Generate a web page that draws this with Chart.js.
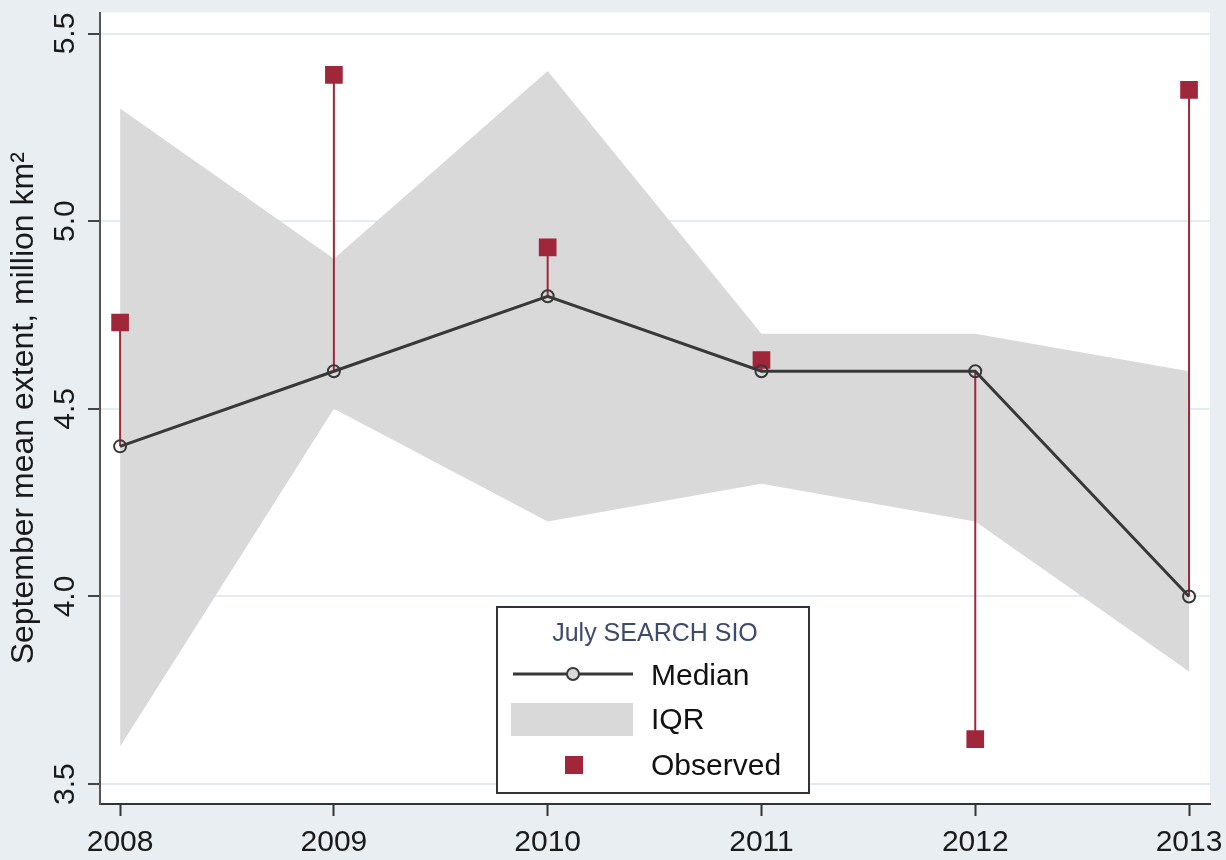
<!DOCTYPE html>
<html>
<head>
<meta charset="utf-8">
<title>July SEARCH SIO – September mean extent</title>
<script src="https://cdn.jsdelivr.net/npm/chart.js@4/dist/chart.umd.min.js"></script>
<style>
  html, body { margin: 0; padding: 0; background: #e8eef2; }
  #wrap { width: 1226px; height: 860px; }
</style>
</head>
<body>
<div id="wrap"><canvas id="c" width="1226" height="860"></canvas></div>
<script>
// Forecast years
const years = [2008, 2009, 2010, 2011, 2012, 2013];
// Median of the July outlooks (million km²)
const median = [4.4, 4.6, 4.8, 4.6, 4.6, 4.0];
// Interquartile range of the outlooks
const iqrUpper = [5.3, 4.9, 5.4, 4.7, 4.7, 4.6];
const iqrLower = [3.6, 4.5, 4.2, 4.3, 4.2, 3.8];
// Observed September mean extent
const observed = [4.73, 5.39, 4.93, 4.63, 3.62, 5.35];
// Axis ticks
const yTickValues = [3.5, 4.0, 4.5, 5.0, 5.5];
const yTickLabels = ['3.5', '4.0', '4.5', '5.0', '5.5'];
const xTickValues = years;

const FONT = "'Liberation Sans', Arial, Helvetica, sans-serif";
const OBS_COLOR = '#a0273a';
const MED_COLOR = '#383838';
const IQR_COLOR = '#d9d9d9';

const pts = (vals) => years.map((x, i) => ({ x, y: vals[i] }));

// vertical rules joining each median to its observed value
const stems = [];
years.forEach((x, i) => {
  stems.push({ x, y: median[i] }, { x, y: observed[i] }, { x, y: null });
});

// white plotting region on the tinted page
const plotBackground = {
  id: 'plotBackground',
  beforeDraw(chart) {
    const { ctx, chartArea: a } = chart;
    ctx.save();
    ctx.fillStyle = '#e8eef2';
    ctx.fillRect(0, 0, chart.width, chart.height);
    ctx.fillStyle = '#ffffff';
    ctx.fillRect(a.left, a.top, a.right - a.left, a.bottom - a.top);
    ctx.restore();
  }
};

// y tick labels, turned to read upward
const rotatedYLabels = {
  id: 'rotatedYLabels',
  afterDraw(chart) {
    const { ctx } = chart;
    const y = chart.scales.y;
    ctx.save();
    ctx.fillStyle = '#1a1a1a';
    ctx.font = `30px ${FONT}`;
    ctx.textAlign = 'center';
    ctx.textBaseline = 'alphabetic';
    yTickValues.forEach((v, i) => {
      const py = y.getPixelForValue(v);
      ctx.save();
      ctx.translate(74, py);
      ctx.rotate(-Math.PI / 2);
      ctx.fillText(yTickLabels[i], 0, 0);
      ctx.restore();
    });
    ctx.restore();
  }
};

// boxed key inside the plot
const keyBox = {
  id: 'keyBox',
  afterDraw(chart) {
    const { ctx } = chart;
    const ds = chart.data.datasets;
    const med = ds.find(d => d.label === 'Median');
    const iqr = ds.find(d => d.label === 'IQR');
    const obs = ds.find(d => d.label === 'Observed');
    const bx = 497, by = 607, bw = 312, bh = 186;
    ctx.save();
    ctx.fillStyle = '#ffffff';
    ctx.fillRect(bx, by, bw, bh);
    ctx.strokeStyle = '#333';
    ctx.lineWidth = 2;
    ctx.strokeRect(bx, by, bw, bh);

    ctx.fillStyle = '#3d4a6b';
    ctx.font = `25px ${FONT}`;
    ctx.textAlign = 'center';
    ctx.textBaseline = 'middle';
    ctx.fillText('July SEARCH SIO', bx + bw / 2 + 2, 634);

    // Median sample
    ctx.strokeStyle = med.borderColor;
    ctx.lineWidth = med.borderWidth;
    ctx.beginPath();
    ctx.moveTo(513, 674);
    ctx.lineTo(633, 674);
    ctx.stroke();
    ctx.lineWidth = med.pointBorderWidth;
    ctx.fillStyle = '#d9d9d9';
    ctx.beginPath();
    ctx.arc(573, 674, med.pointRadius, 0, Math.PI * 2);
    ctx.fill();
    ctx.stroke();

    // IQR sample
    ctx.fillStyle = iqr.backgroundColor;
    ctx.fillRect(511, 703, 122, 33);

    // Observed sample
    ctx.fillStyle = obs.backgroundColor;
    ctx.fillRect(565, 756, 18, 18);

    ctx.fillStyle = '#111';
    ctx.font = `30px ${FONT}`;
    ctx.textAlign = 'left';
    ctx.fillText('Median', 651, 677);
    ctx.fillText('IQR', 651, 721);
    ctx.fillText('Observed', 651, 767);
    ctx.restore();
  }
};

new Chart(document.getElementById('c'), {
  type: 'line',
  data: {
    datasets: [
      {
        label: 'Median',
        data: pts(median),
        borderColor: MED_COLOR,
        borderWidth: 3,
        pointRadius: 6,
        pointBorderWidth: 2,
        pointBorderColor: MED_COLOR,
        pointBackgroundColor: 'rgba(0,0,0,0)',
        tension: 0,
        fill: false,
        order: 0
      },
      {
        label: 'Observed',
        data: pts(observed),
        showLine: false,
        pointStyle: 'rect',
        pointRadius: 12.5,
        pointBorderWidth: 0,
        backgroundColor: OBS_COLOR,
        pointBackgroundColor: OBS_COLOR,
        borderColor: OBS_COLOR,
        order: 1
      },
      {
        label: 'stems',
        data: stems,
        borderColor: OBS_COLOR,
        borderWidth: 2,
        pointRadius: 0,
        spanGaps: false,
        fill: false,
        order: 2
      },
      {
        label: 'IQR',
        data: pts(iqrUpper),
        borderWidth: 0,
        borderColor: 'rgba(0,0,0,0)',
        backgroundColor: IQR_COLOR,
        pointRadius: 0,
        fill: '+1',
        tension: 0,
        order: 3
      },
      {
        label: 'IQR lower',
        data: pts(iqrLower),
        borderWidth: 0,
        borderColor: 'rgba(0,0,0,0)',
        backgroundColor: IQR_COLOR,
        pointRadius: 0,
        fill: false,
        tension: 0,
        order: 4
      }
    ]
  },
  options: {
    responsive: false,
    animation: false,
    devicePixelRatio: 1,
    layout: { padding: { top: 8, right: 16, left: 0, bottom: 0 } },
    plugins: {
      legend: { display: false },
      tooltip: { enabled: false }
    },
    scales: {
      x: {
        type: 'linear',
        offset: false,
        min: 2007.906,
        max: 2013.098,
        afterBuildTicks(scale) {
          scale.ticks = xTickValues.map(v => ({ value: v }));
        },
        afterFit(scale) {
          scale.height = 56;
          scale.paddingLeft = 0;
          scale.paddingRight = 0;
        },
        border: { display: true, color: '#333', width: 2 },
        grid: {
          drawOnChartArea: false,
          drawTicks: true,
          tickLength: 12,
          tickColor: '#333',
          tickWidth: 2
        },
        ticks: {
          autoSkip: false,
          maxRotation: 0,
          padding: 9,
          color: '#1a1a1a',
          font: { family: FONT, size: 30 },
          callback: (v) => String(v)
        }
      },
      y: {
        type: 'linear',
        min: 3.447,
        max: 5.556,
        afterBuildTicks(scale) {
          scale.ticks = yTickValues.map(v => ({ value: v }));
        },
        afterFit(scale) {
          scale.width = 100;
          scale.paddingTop = 0;
          scale.paddingBottom = 0;
        },
        border: { display: true, color: '#555', width: 2 },
        grid: {
          color: '#e4ecf1',
          lineWidth: 2,
          drawTicks: true,
          tickLength: 12,
          tickColor: '#444',
          tickWidth: 2
        },
        ticks: { display: false },
        title: {
          display: true,
          text: 'September mean extent, million km²',
          color: '#1a1a1a',
          font: { family: FONT, size: 32 },
          padding: { top: 5, bottom: 0 }
        }
      }
    }
  },
  plugins: [plotBackground, rotatedYLabels, keyBox]
});
</script>
</body>
</html>
